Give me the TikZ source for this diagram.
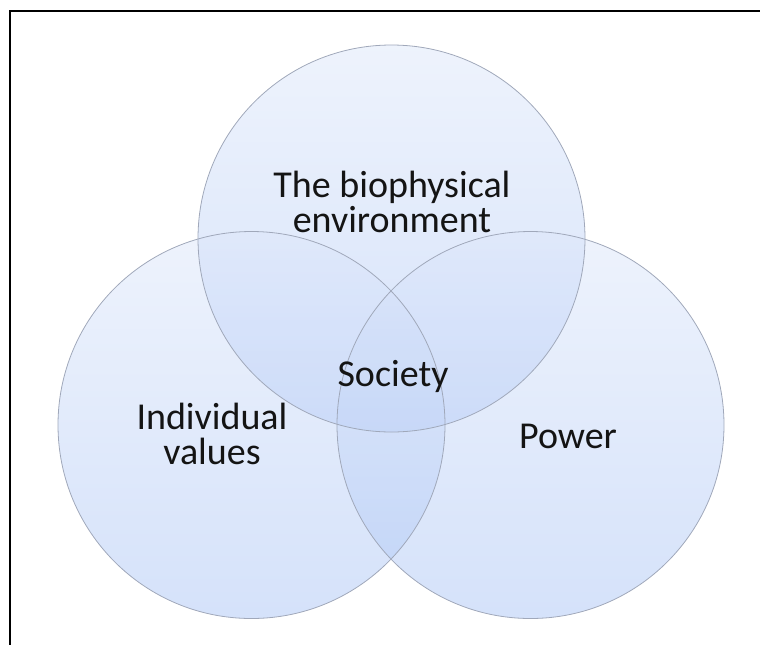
\documentclass[tikz,border=0pt]{standalone}
\usepackage{fontspec}
\setmainfont{Carlito}
\definecolor{ctop}{RGB}{221,231,250}
\definecolor{cbot}{RGB}{171,197,245}
\definecolor{edge}{RGB}{160,168,186}
\begin{document}
\begin{tikzpicture}[x=0.75pt,y=-0.75pt,
  venn/.style={circle, inner sep=0pt, minimum size=290.25pt, top color=ctop, bottom color=cbot, fill opacity=0.5, draw=none},
  vennedge/.style={circle, inner sep=0pt, minimum size=290.25pt, draw=edge, line width=0.6pt},
  lbl/.style={font=\fontsize{28.5}{26.5}\selectfont, text=black!92, align=center, inner sep=0pt}]
\useasboundingbox (0,0) rectangle (760,644);
% frame (left and top edges)
\coordinate (fbl) at (10,646);
\coordinate (ftl) at (10,11);
\coordinate (ftr) at (762,11);
\draw[line width=2.2pt] (fbl) -- (ftl) -- (ftr);
% circle fills
\node[venn] (env) at (391.5,238.5) {};
\node[venn] (ind) at (251.5,425) {};
\node[venn] (pow) at (530.5,425) {};
% circle outlines
\node[vennedge] (enve) at (391.5,238.5) {};
\node[vennedge] (inde) at (251.5,425) {};
\node[vennedge] (powe) at (530.5,425) {};
% labels
\node[lbl] (tenv) at (392,202) {The biophysical\\environment};
\node[lbl] (tind) at (212,434) {Individual\\values};
\node[lbl, anchor=base] (tpow) at (568,448) {Power};
\node[lbl, anchor=base] (tsoc) at (393,386) {Society};
\end{tikzpicture}
\end{document}
